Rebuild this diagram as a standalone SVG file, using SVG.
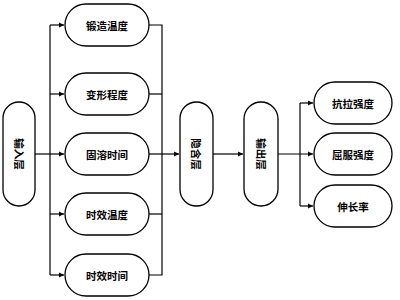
<svg xmlns="http://www.w3.org/2000/svg" width="400" height="300" viewBox="0 0 400 300">
<style>
.n{fill:#fff;stroke:#000;stroke-width:1.3}
.t{font-family:"Noto Sans CJK SC",sans-serif;font-size:10.5px;font-weight:bold;fill:#000;text-anchor:middle;dominant-baseline:central}
.c{fill:none;stroke:#000;stroke-width:1.2}
</style>
<defs>
<marker id="a" markerWidth="6" markerHeight="6" refX="5" refY="3" orient="auto" markerUnits="userSpaceOnUse">
<path d="M0,0.5 L5,3 L0,5.5 Z" fill="#000"/>
</marker>
</defs>
<rect width="400" height="300" fill="#fff"/>
<g id="connectors">
<path class="c" d="M35,154 H64" marker-end="url(#a)"/>
<path class="c" d="M50,25 V275"/>
<path class="c" d="M50,25 H64" marker-end="url(#a)"/>
<path class="c" d="M50,94 H64" marker-end="url(#a)"/>
<path class="c" d="M50,214 H64" marker-end="url(#a)"/>
<path class="c" d="M50,275 H64" marker-end="url(#a)"/>
<path class="c" d="M149,25 H162 V275 H149"/>
<path class="c" d="M149,94 H162"/>
<path class="c" d="M149,154 H162"/>
<path class="c" d="M149,214 H162"/>
<path class="c" d="M162,154 H179" marker-end="url(#a)"/>
<path class="c" d="M213,154 H243" marker-end="url(#a)"/>
<path class="c" d="M278,154 H313" marker-end="url(#a)"/>
<path class="c" d="M300,103 V206"/>
<path class="c" d="M300,103 H313" marker-end="url(#a)"/>
<path class="c" d="M300,206 H313" marker-end="url(#a)"/>
</g>
<g id="input"><rect class="n" x="3" y="102" width="32" height="104" rx="16"/><text class="t" transform="translate(19,154) rotate(90)">输入层</text></g>
<g id="n1"><rect class="n" x="65" y="4" width="84" height="42" rx="21"/><text class="t" x="107" y="25">锻造温度</text></g>
<g id="n2"><rect class="n" x="65" y="73" width="84" height="42" rx="21"/><text class="t" x="107" y="94">变形程度</text></g>
<g id="n3"><rect class="n" x="65" y="133" width="84" height="42" rx="21"/><text class="t" x="107" y="154">固溶时间</text></g>
<g id="n4"><rect class="n" x="65" y="193" width="84" height="42" rx="21"/><text class="t" x="107" y="214">时效温度</text></g>
<g id="n5"><rect class="n" x="65" y="254" width="84" height="42" rx="21"/><text class="t" x="107" y="275">时效时间</text></g>
<g id="hidden"><rect class="n" x="180" y="102" width="33" height="104" rx="16.5"/><text class="t" transform="translate(196.5,154) rotate(90)">隐含层</text></g>
<g id="output"><rect class="n" x="244" y="102" width="34" height="104" rx="17"/><text class="t" transform="translate(261,154) rotate(90)">输出层</text></g>
<g id="o1"><rect class="n" x="314" y="82" width="78" height="42" rx="21"/><text class="t" x="353" y="103">抗拉强度</text></g>
<g id="o2"><rect class="n" x="314" y="133" width="78" height="42" rx="21"/><text class="t" x="353" y="154">屈服强度</text></g>
<g id="o3"><rect class="n" x="314" y="185" width="78" height="42" rx="21"/><text class="t" x="353" y="206">伸长率</text></g>
</svg>
